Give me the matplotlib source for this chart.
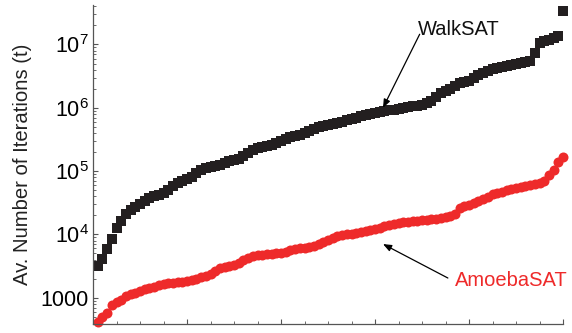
import numpy as np
import matplotlib
matplotlib.use("Agg")
import matplotlib.pyplot as plt

plt.rcParams['font.family'] = ['Liberation Sans', 'DejaVu Sans']
plt.rcParams['mathtext.fontset'] = 'custom'
plt.rcParams['mathtext.rm'] = 'Liberation Sans'

# av. iterations per instance, sorted
walksat = [3162, 4083, 5872, 8450, 12600, 16240, 20950, 24220, 27020, 30140,
           33600, 37480, 40300, 41800, 44960, 50120, 57980, 64680, 69550, 74800,
           80400, 93000, 103700, 111500, 115700, 120000, 124400, 133700, 143800, 149200,
           154700, 172600, 192400, 214500, 230700, 239300, 248200, 257400, 276800, 297700,
           320100, 344200, 357000, 370300, 398200, 428200, 460400, 495100, 513500, 532500,
           552300, 572800, 594000, 638600, 662300, 686800, 738500, 765900, 794300, 823700,
           854200, 885900, 918700, 920000, 952700, 988000, 1.025e6, 1.063e6, 1.07e6, 1.102e6,
           1.185e6, 1.274e6, 1.473e6, 1.706e6, 1.834e6, 1.972e6, 2.2e6, 2.45e6, 2.54e6, 2.64e6,
           2.94e6, 3.28e6, 3.52e6, 3.79e6, 4.07e6, 4.23e6, 4.38e6, 4.55e6, 4.71e6, 4.89e6,
           5.07e6, 5.26e6, 5.45e6, 7.3e6, 1.05e7, 1.13e7, 1.17e7, 1.26e7, 1.35e7, 3.36e7]

amoebasat = [413, 495, 573, 767, 855, 920, 1065, 1143, 1187, 1276,
             1372, 1423, 1476, 1588, 1646, 1708, 1730, 1771, 1800, 1837,
             1905, 1975, 2124, 2203, 2368, 2640, 2945, 3054, 3168, 3285,
             3533, 3940, 4237, 4552, 4680, 4720, 4895, 4950, 5077, 5120,
             5265, 5662, 5872, 6090, 6150, 6316, 6550, 7044, 7575, 8146,
             8760, 9420, 9770, 10130, 10200, 10500, 10890, 11300, 11710, 12140,
             12590, 13540, 14050, 14560, 15100, 15660, 15800, 16240, 16400, 16850,
             17000, 17470, 17600, 18120, 18790, 19480, 20950, 26060, 28030, 29060,
             31250, 33600, 36130, 38860, 43350, 44960, 46600, 50120, 51980, 53910,
             55910, 57980, 60130, 62360, 64680, 69550, 86400, 103700, 138700, 166400]

instance = np.arange(1, len(walksat) + 1)

fig = plt.figure(figsize=(5.72, 3.33), dpi=100)
ax = fig.add_axes([0.1626, 0.027, 0.8217, 0.958])

ax.plot(instance, walksat, 's', color='#231f20', markersize=6.6, markeredgewidth=0,
        clip_on=False)
ax.plot(instance, amoebasat, 'o', color='#ee2a2a', markersize=7.2, markeredgewidth=0,
        clip_on=False)

ax.set_yscale('log')
ax.set_xlim(0, 100)
ax.set_ylim(385, 4.2e7)

ax.set_xticks(np.arange(0, 101, 20))
ax.set_xticks(np.arange(0, 101, 5), minor=True)
ax.set_xticklabels([])

ax.set_yticks([1e3, 1e4, 1e5, 1e6, 1e7])
ax.set_yticklabels(['1000', r'$\mathregular{10^{4}}$', r'$\mathregular{10^{5}}$',
                    r'$\mathregular{10^{6}}$', r'$\mathregular{10^{7}}$'], fontsize=15.5)

for s in ['top', 'right']:
    ax.spines[s].set_visible(False)
for s in ['left', 'bottom']:
    ax.spines[s].set_color('#555555')
    ax.spines[s].set_linewidth(0.9)

ax.tick_params(which='major', direction='in', length=3.5, width=0.8, color='#555555', pad=3)
ax.tick_params(which='minor', direction='in', length=2, width=0.6, color='#555555')

ax.set_ylabel('Av. Number of Iterations (t)', fontsize=14.6, color='#222222', labelpad=6)

# labels with arrows
arrow = dict(arrowstyle='-|>,head_length=0.5,head_width=0.2', color='black', lw=0.9,
             shrinkA=0, shrinkB=0)
ax.annotate('', xy=(61.7, 1.0e6), xytext=(69.5, 1.45e7), arrowprops=arrow)
ax.text(69.2, 1.7e7, 'WalkSAT', fontsize=14.5, color='#111111', ha='left', va='center')

ax.annotate('', xy=(61.7, 7050), xytext=(75.5, 2050), arrowprops=arrow)
ax.text(77.0, 1900, 'AmoebaSAT', fontsize=14.5, color='#ee2a2a', ha='left', va='center')

fig.savefig('out.png', dpi=100)
